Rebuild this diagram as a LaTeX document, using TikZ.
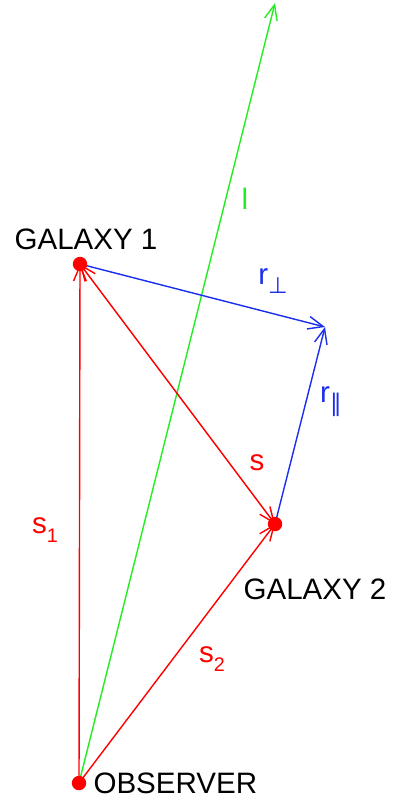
\documentclass[tikz,border=0pt]{standalone}
\usepackage{fontspec}
\setmainfont{Liberation Sans}
\newfontfamily\relfont{DejaVu Sans}
\usepackage{tikz}
\usetikzlibrary{positioning,arrows.meta,backgrounds}
\definecolor{cred}{HTML}{FF0000}
\definecolor{cgreen}{HTML}{22EE22}
\definecolor{cblue}{HTML}{1A2EEE}
\newcommand{\lowsub}[1]{\raisebox{-0.3em}{\fontsize{14}{14}\selectfont #1}}
\tikzset{
  galdot/.style={circle, fill=cred, inner sep=0pt, minimum size=0.36cm},
  vectip/.style={-{Straight Barb[length=0.38cm, width=0.32cm]}, line width=1pt},
  redvec/.style={vectip, color=cred},
  bluevec/.style={vectip, color=cblue},
  greenvec/.style={vectip, color=cgreen},
  bigtext/.style={inner sep=0pt, font=\fontsize{21}{25}\selectfont}
}

\begin{document}
\begin{tikzpicture}[x=0.025cm, y=-0.025cm]
    \useasboundingbox (0,0) rectangle (407,803);
    \node[galdot] (obs) at (79,783) {};
    \node[galdot] (gal1) at (80,264) {};
    \node[galdot] (gal2) at (275,524) {};
    \coordinate (rtip) at (325,327);
    \coordinate (ltop) at (275,3);

    \node[bigtext, right=0.17cm of obs] (obsname) {OBSERVER};
    \node[bigtext] (gal1name) at (86,239) {GALAXY 1};
    \node[bigtext] (gal2name) at (315,589) {GALAXY 2};
    \node[bigtext, text=cgreen] (lname) at (245,199) {l};
    \node[bigtext, text=cblue] (rperp) at (273,281) {r\lowsub{\relfont\fontsize{16}{16}\selectfont ⊥}};
    \node[bigtext, text=cblue] (rpar) at (331,402) {r\lowsub{\relfont\fontsize{17}{17}\selectfont ∥}};
    \node[bigtext, text=cred] (sname) at (257,463) {s};
    \node[bigtext, text=cred] (s1name) at (45,530) {s\lowsub{1}};
    \node[bigtext, text=cred] (s2name) at (212,659) {s\lowsub{2}};

    \begin{scope}[on background layer]
      \draw[greenvec] (obs.center) -- (ltop);
      \draw[bluevec] (gal1.center) -- (rtip);
      \draw[bluevec] (gal2.center) -- (rtip);
      \draw[redvec] (obs.center) -- (gal1.center);
      \draw[redvec] (obs.center) -- (gal2.center);
      \draw[redvec, {Straight Barb[length=0.38cm, width=0.32cm]}-{Straight Barb[length=0.38cm, width=0.32cm]}] (gal1.center) -- (gal2.center);
    \end{scope}
  \end{tikzpicture}
\end{document}
